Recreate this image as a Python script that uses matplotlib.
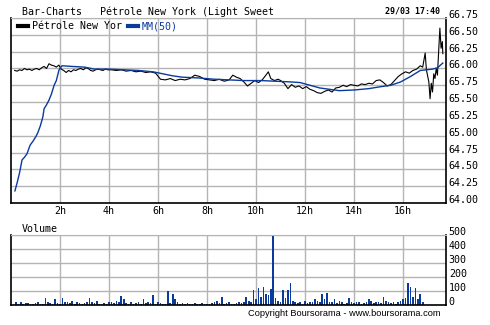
import numpy as np
import matplotlib.pyplot as plt

# cours (heures, prix)
price_h = [0.15, 0.25, 0.35, 0.45, 0.55, 0.65, 0.75, 0.85, 0.95, 1.05, 1.15, 1.25, 1.35, 1.45,
           1.55, 1.65, 1.75, 1.85, 1.95, 2.05, 2.15, 2.25, 2.35, 2.45, 2.55, 2.65, 2.75, 2.85,
           2.95, 3.05, 3.15, 3.25, 3.35, 3.45, 3.55, 3.65, 3.75, 3.85, 3.95, 4.1, 4.3, 4.5,
           4.7, 4.9, 5.1, 5.3, 5.5, 5.7, 5.9, 6.1, 6.3, 6.5, 6.7, 6.9, 7.1, 7.3, 7.5, 7.7,
           7.9, 8.1, 8.3, 8.5, 8.7, 8.9, 9.05, 9.2, 9.35, 9.5, 9.65, 9.8, 9.95, 10.1, 10.25,
           10.4, 10.5, 10.6, 10.75, 10.9, 11.0, 11.15, 11.3, 11.45, 11.6, 11.75, 11.9, 12.05,
           12.2, 12.35, 12.5, 12.65, 12.8, 12.95, 13.1, 13.25, 13.4, 13.55, 13.7, 13.85, 14.0,
           14.15, 14.3, 14.45, 14.6, 14.75, 14.9, 15.05, 15.2, 15.35, 15.5, 15.65, 15.8, 15.95,
           16.1, 16.25, 16.4, 16.55, 16.7, 16.8, 16.9, 16.95, 17.05, 17.1, 17.15, 17.2, 17.25,
           17.3, 17.35, 17.4, 17.45, 17.5, 17.55, 17.6, 17.62]
price = [65.97, 65.96, 65.98, 65.97, 66.00, 65.98, 65.99, 65.97, 65.99, 66.00, 65.98, 66.01, 66.03, 66.00,
         66.07, 66.05, 66.04, 66.02, 66.05, 65.99, 65.97, 65.94, 65.97, 65.95, 65.98, 65.97, 65.99, 66.00,
         65.98, 66.01, 66.00, 65.97, 65.96, 65.98, 65.99, 65.98, 65.97, 65.99, 65.98, 65.98, 65.97, 65.98,
         65.96, 65.97, 65.95, 65.96, 65.94, 65.95, 65.93, 65.84, 65.83, 65.85, 65.82, 65.84, 65.83, 65.85,
         65.90, 65.88, 65.84, 65.83, 65.82, 65.84, 65.81, 65.83, 65.90, 65.87, 65.85, 65.80, 65.74, 65.78,
         65.82, 65.79, 65.83, 65.90, 65.95, 65.85, 65.82, 65.84, 65.82, 65.78, 65.70, 65.76, 65.72, 65.74,
         65.70, 65.73, 65.69, 65.67, 65.64, 65.63, 65.66, 65.68, 65.65, 65.71, 65.72, 65.75, 65.73, 65.76,
         65.75, 65.74, 65.77, 65.76, 65.78, 65.77, 65.82, 65.83, 65.79, 65.74, 65.76, 65.82, 65.88, 65.92,
         65.95, 65.93, 65.97, 65.99, 66.04, 66.02, 66.23, 65.98, 65.80, 65.55, 65.78, 65.65, 65.92,
         65.85, 66.00, 65.90, 66.25, 66.60, 66.30, 66.40, 66.22]

# moyenne mobile 50
mm_h = [0.16, 0.25, 0.35, 0.45, 0.55, 0.65, 0.78, 0.9, 1.02, 1.1, 1.2, 1.3, 1.35, 1.45, 1.55, 1.65,
        1.76, 1.85, 1.96, 2.08, 2.5, 3.0, 3.4, 4.0, 4.6, 5.2, 5.8, 6.2, 6.6, 7.0, 7.6, 8.3, 8.9,
        9.5, 10.2, 10.8, 11.4, 11.8, 12.3, 12.6, 13.0, 13.4, 14.0, 14.6, 15.1, 15.5, 15.9, 16.3,
        16.7, 17.2, 17.4, 17.62]
mm = [64.18, 64.30, 64.45, 64.64, 64.68, 64.73, 64.86, 64.92, 64.99, 65.05, 65.15, 65.28, 65.40, 65.46,
      65.53, 65.62, 65.75, 65.82, 65.98, 66.04, 66.03, 66.02, 65.99, 65.99, 65.98, 65.97, 65.95, 65.92,
      65.89, 65.87, 65.86, 65.84, 65.83, 65.82, 65.82, 65.81, 65.80, 65.79, 65.74, 65.71, 65.69, 65.67,
      65.68, 65.70, 65.73, 65.75, 65.80, 65.88, 65.97, 65.99, 66.01, 66.08]

# volume toutes les 0.1h de 0.2h a 16.8h
volume = [20, 10, 25, 8, 12, 15, 10, 5,
          12, 18, 8, 10, 48, 20, 15, 10, 43, 12,
          8, 48, 20, 25, 15, 30, 10, 20, 12, 8,
          15, 25, 48, 20, 12, 28, 10, 8, 15, 10,
          20, 25, 12, 30, 18, 64, 45, 12, 8, 20,
          10, 15, 25, 8, 40, 12, 20, 15, 71, 10,
          20, 15, 10, 8, 100, 12, 79, 40, 20, 10,
          15, 8, 12, 10, 5, 15, 8, 10, 12, 5,
          10, 8, 15, 20, 30, 12, 57, 10, 15, 20,
          10, 8, 15, 20, 12, 25, 60, 30, 20, 107,
          40, 124, 60, 126, 80, 70, 114, 500, 50, 30,
          20, 107, 50, 110, 159, 30, 20, 15, 25, 10,
          30, 15, 20, 25, 40, 30, 20, 76, 45, 83,
          20, 25, 40, 15, 30, 20, 10, 15, 50, 20,
          15, 20, 25, 10, 15, 20, 45, 30, 12, 20,
          25, 15, 59, 30, 20, 15, 25, 10, 20, 30,
          40, 50, 159, 126, 60, 119, 40, 80, 20]
vol_h = 0.2 + 0.1 * np.arange(len(volume))

x_ticks = [2, 4, 6, 8, 10, 12, 14, 16]
x_labels = ['2h', '4h', '6h', '8h', '10h', '12h', '14h', '16h']
y_ticks = [64.00, 64.25, 64.50, 64.75, 65.00, 65.25, 65.50, 65.75, 66.00, 66.25, 66.50, 66.75]
v_ticks = [0, 100, 200, 300, 400, 500]

blue = '#0a3a9c'
grid = '#b4b4b4'
mono = 'DejaVu Sans Mono'
fs = 7.2

fig = plt.figure(figsize=(4.9, 3.25), dpi=100)
ax = fig.add_axes([11 / 490, 1 - 203 / 325, 435 / 490, 185 / 325])
axv = fig.add_axes([11 / 490, 1 - 305 / 325, 435 / 490, 70 / 325])

ax.plot(price_h, price, color='black', lw=0.8, label='Pétrole New Yor')
ax.plot(mm_h, mm, color=blue, lw=1.0, label='MM(50)')
ax.set_xlim(0, 17.75)
ax.set_ylim(64.0, 66.75)

axv.bar(vol_h, volume, width=0.065, color=blue)
axv.set_xlim(0, 17.75)
axv.set_ylim(0, 500)

for a, yt in ((ax, y_ticks), (axv, v_ticks)):
    a.set_xticks(x_ticks)
    a.set_yticks(yt)
    a.grid(True, color=grid, lw=1)
    a.set_axisbelow(True)
    a.yaxis.tick_right()
    a.tick_params(length=0, labelsize=fs, pad=2)
    for lbl in a.get_yticklabels():
        lbl.set_fontfamily(mono)
        lbl.set_va('baseline')
    for s in ('left', 'bottom', 'right'):
        a.spines[s].set_color('black')
        a.spines[s].set_linewidth(1.2)
    a.spines['top'].set_color(grid)

ax.set_yticklabels([f'{v:.2f}' for v in y_ticks])
for lbl in ax.get_yticklabels():
    lbl.set_fontfamily(mono)
    lbl.set_va('baseline')
ax.set_xticklabels(x_labels, fontfamily=mono, fontsize=fs)
axv.set_xticklabels([])

leg = ax.legend(loc='upper left', ncol=2, frameon=False, prop={'family': mono, 'size': fs},
                handlelength=1.0, handletextpad=0.4, columnspacing=0.6,
                bbox_to_anchor=(0.0, 1.02), borderaxespad=0.3)
for h in leg.legend_handles:
    h.set_linewidth(3)
leg.get_texts()[1].set_color(blue)

fig.text(22 / 490, 1 - 12 / 325, 'Bar-Charts   Pétrole New York (Light Sweet',
         family=mono, fontsize=fs, va='center')
fig.text(440 / 490, 1 - 11 / 325, '29/03 17:40', family=mono, fontsize=6, weight='bold',
         va='center', ha='right')
fig.text(22 / 490, 1 - 229 / 325, 'Volume', family=mono, fontsize=fs, va='center')
fig.text(440 / 490, 1 - 313 / 325, 'Copyright Boursorama - www.boursorama.com',
         family='Liberation Sans', fontsize=6.7, va='center', ha='right')

fig.savefig('out.png', dpi=100)
